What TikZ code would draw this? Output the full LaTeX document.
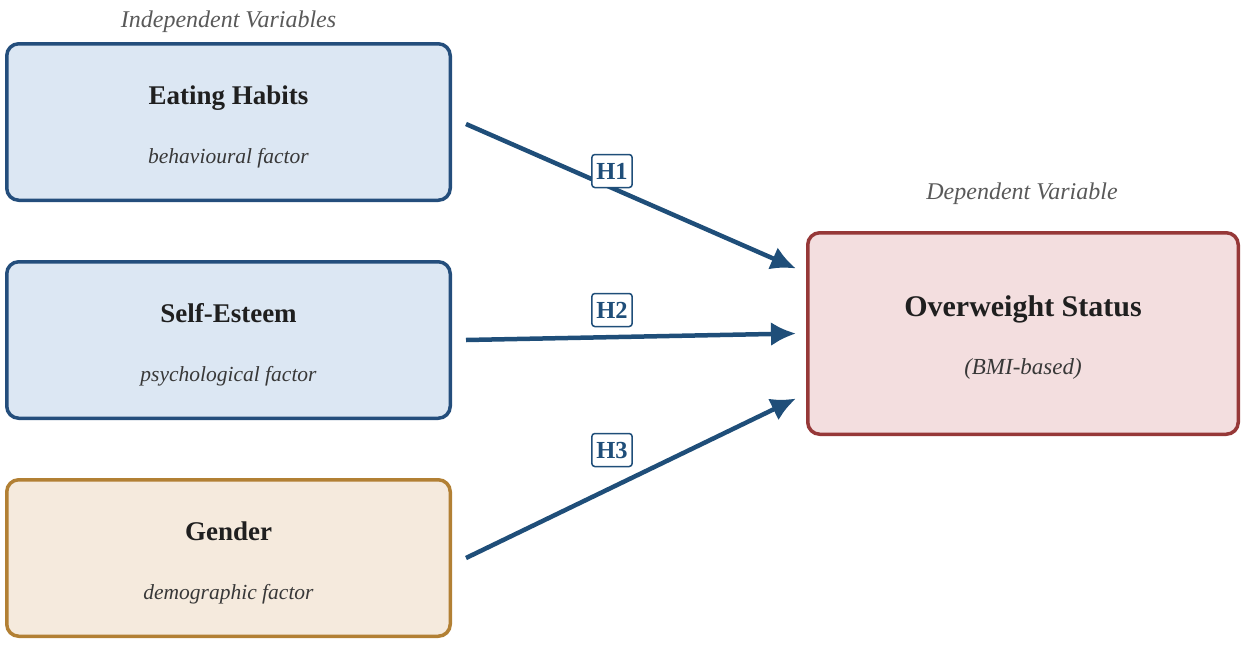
\documentclass[tikz,border=0pt]{standalone}
\usepackage{fontspec}
\setmainfont{Liberation Serif}
\usetikzlibrary{positioning, arrows.meta}

\definecolor{ivblue}{RGB}{36,78,124}
\definecolor{ivfill}{RGB}{220,231,243}
\definecolor{gdbrown}{RGB}{178,128,52}
\definecolor{gdfill}{RGB}{245,234,221}
\definecolor{dvred}{RGB}{150,56,56}
\definecolor{dvfill}{RGB}{243,222,223}
\definecolor{arrblue}{RGB}{31,78,121}

\tikzset{
  varbox/.style={draw, rounded corners=12pt, line width=3.5pt, inner sep=0pt,
    minimum width=443.5pt, minimum height=156.5pt},
  ivbox/.style={varbox, draw=ivblue, fill=ivfill},
  gdbox/.style={varbox, draw=gdbrown, fill=gdfill},
  dvbox/.style={varbox, draw=dvred, fill=dvfill, minimum width=430.5pt, minimum height=201.5pt},
  vartitle/.style={anchor=base, text=black!88, font=\fontsize{27}{32}\selectfont\bfseries},
  varsub/.style={anchor=base, text=black!78, font=\fontsize{21.5}{25}\selectfont\itshape},
  grouplab/.style={anchor=base, text=black!65, font=\fontsize{24}{28}\selectfont\itshape},
  hyp/.style={draw=arrblue, line width=4.5pt, -{Latex[length=25pt,width=24pt]}},
  hyplab/.style={draw=arrblue, fill=white, text=arrblue, rounded corners=3pt, line width=1.5pt,
    inner xsep=4.5pt, inner ysep=8.5pt, text height=16pt, text depth=0pt,
    font=\fontsize{24.5}{28}\selectfont\bfseries}
}

\begin{document}
\begin{tikzpicture}[x=1pt,y=-1pt]
\useasboundingbox (0,0) rectangle (1250,646);

% les variables independantes
\node[ivbox] (eat) at (228.5,122) {};
\node[ivbox, below=58pt of eat] (self) {};
\node[gdbox, below=58pt of self] (gender) {};

\node[vartitle] (eatT) at ([yshift=18pt]eat.center) {Eating Habits};
\node[varsub] (eatS) at ([yshift=-41pt]eat.center) {behavioural factor};
\node[vartitle] (selfT) at ([yshift=18pt]self.center) {Self-Esteem};
\node[varsub] (selfS) at ([yshift=-41pt]self.center) {psychological factor};
\node[vartitle] (genderT) at ([yshift=18pt]gender.center) {Gender};
\node[varsub] (genderS) at ([yshift=-41pt]gender.center) {demographic factor};

\node[grouplab] (ivlab) at (228.5,27) {Independent Variables};

% la variable dependante
\node[dvbox] (over) at (1023,333.5) {};
\node[vartitle, font=\fontsize{30}{36}\selectfont\bfseries] (overT) at ([yshift=17pt]over.center) {Overweight Status};
\node[varsub, font=\fontsize{23}{28}\selectfont\itshape] (overS) at ([yshift=-41pt]over.center) {(BMI-based)};

\node[grouplab] (dvlab) at (1022,199) {Dependent Variable};

% les hypotheses
\draw[hyp] ([xshift=14pt,yshift=-2pt]eat.east) -- ([xshift=-10pt,yshift=65pt]over.west);
\draw[hyp] ([xshift=14pt]self.east) -- ([xshift=-10pt]over.west);
\draw[hyp] ([xshift=14pt]gender.east) -- ([xshift=-10pt,yshift=-65pt]over.west);

\node[hyplab] (h1) at (612,171) {H1};
\node[hyplab] (h2) at (612,310) {H2};
\node[hyplab] (h3) at (612,450) {H3};

\end{tikzpicture}
\end{document}
